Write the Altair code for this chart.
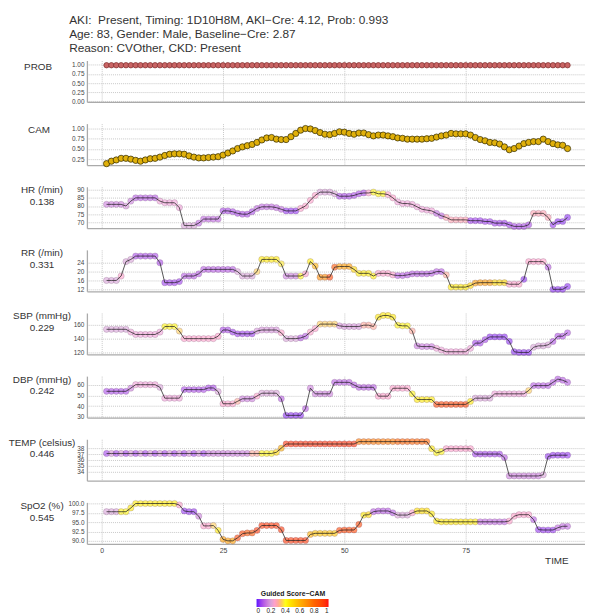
import altair as alt
import pandas as pd

TIME = list(range(1, 97))

PROB = [0.99] * 12 + [0.99] * 12 + [0.99] * 12 + [0.99] * 12 + [0.99] * 12 + [0.99] * 12 + [0.99] * 12 + [0.99] * 12

CAM = [0.14, 0.20, 0.23, 0.27, 0.27, 0.25, 0.22, 0.20, 0.23, 0.26, 0.27, 0.30,
       0.34, 0.37, 0.38, 0.38, 0.37, 0.33, 0.30, 0.28, 0.28, 0.29, 0.30, 0.31,
       0.35, 0.40, 0.45, 0.51, 0.55, 0.58, 0.61, 0.66, 0.72, 0.77, 0.78, 0.74,
       0.73, 0.73, 0.80, 0.88, 0.96, 1.00, 0.99, 0.95, 0.90, 0.86, 0.85, 0.88,
       0.92, 0.91, 0.88, 0.86, 0.89, 0.89, 0.85, 0.82, 0.84, 0.84, 0.82, 0.80,
       0.77, 0.76, 0.74, 0.74, 0.74, 0.74, 0.75, 0.76, 0.79, 0.82, 0.84, 0.88,
       0.87, 0.87, 0.87, 0.84, 0.78, 0.73, 0.70, 0.66, 0.65, 0.62, 0.55, 0.48,
       0.51, 0.57, 0.63, 0.66, 0.68, 0.68, 0.74, 0.68, 0.63, 0.60, 0.59, 0.51]

HR = [81, 81, 81, 81, 80, 83, 85, 85, 85, 85, 85, 83,
      82, 82, 82, 79, 68, 68, 68, 69.5, 72, 72, 72, 72,
      77, 77, 76.5, 75.5, 75, 75, 76.5, 78.5, 79.5, 79.5, 79.5, 79,
      78, 77, 77, 77, 78.5, 80, 83.5, 86.5, 88.5, 88.5, 88.5, 87.5,
      86, 86, 86, 86.5, 87.5, 88, 88, 88.5, 87.5, 87.5, 87, 85,
      82.5, 81.5, 81.5, 81, 79.5, 78, 77.5, 77, 75.5, 74, 73, 71.5,
      71.5, 71.5, 71.5, 71, 71, 71, 70.5, 70.5, 69.5, 69.5, 69.5, 68.5,
      67.5, 67.5, 67.5, 68.5, 75.5, 75.5, 75.5, 73, 68.5, 70.5, 70.5, 73]
HR_S = [0.15, 0.15, 0.15, 0.15, 0.18, 0.15, 0.10, 0.10, 0.10, 0.10, 0.10, 0.22,
        0.22, 0.22, 0.22, 0.22, 0.20, 0.20, 0.20, 0.12, 0.12, 0.12, 0.12, 0.12,
        0.08, 0.08, 0.08, 0.08, 0.08, 0.08, 0.08, 0.12, 0.12, 0.12, 0.12, 0.12,
        0.12, 0.05, 0.05, 0.05, 0.25, 0.25, 0.25, 0.25, 0.20, 0.20, 0.20, 0.20,
        0.08, 0.08, 0.08, 0.08, 0.08, 0.08, 0.25, 0.42, 0.42, 0.42, 0.25, 0.25,
        0.22, 0.22, 0.22, 0.22, 0.22, 0.22, 0.22, 0.22, 0.12, 0.12, 0.28, 0.28,
        0.28, 0.28, 0.28, 0.06, 0.06, 0.06, 0.06, 0.06, 0.06, 0.06, 0.06, 0.06,
        0.08, 0.08, 0.08, 0.08, 0.28, 0.28, 0.28, 0.28, 0.05, 0.04, 0.04, 0.04]

RR = [16, 16, 16, 18, 24.5, 25.5, 27, 27, 27, 27, 27, 24,
      15, 15, 15, 15.5, 18, 18, 18, 19, 21, 21, 21, 21,
      21, 21, 21, 20, 18, 18, 18, 20, 25.5, 25.5, 25.5, 25.5,
      23.5, 18, 18, 18, 18, 19, 24.5, 22.5, 17.5, 17.5, 17.5, 22,
      22.3, 22.3, 22.3, 21, 19.2, 19.2, 19.2, 18, 19.2, 19.2, 19.2, 18.5,
      18.2, 18.2, 18.5, 19, 19, 19, 19, 19.2, 20, 20, 18.5, 13,
      13, 13, 13, 13.7, 14.8, 15, 15, 15, 15, 15, 15, 14.3,
      14.3, 14.3, 16.5, 24.5, 24.5, 24.5, 24.5, 22, 12, 12, 12, 13.3]
RR_S = [0.20, 0.20, 0.20, 0.25, 0.20, 0.20, 0.08, 0.08, 0.08, 0.08, 0.08, 0.08,
        0.06, 0.06, 0.06, 0.06, 0.10, 0.10, 0.10, 0.10, 0.10, 0.10, 0.10, 0.10,
        0.10, 0.10, 0.10, 0.20, 0.20, 0.20, 0.20, 0.35, 0.45, 0.45, 0.45, 0.45,
        0.38, 0.15, 0.15, 0.15, 0.42, 0.25, 0.45, 0.60, 0.70, 0.70, 0.90, 0.85,
        0.65, 0.65, 0.65, 0.50, 0.44, 0.44, 0.44, 0.44, 0.25, 0.25, 0.25, 0.25,
        0.10, 0.10, 0.10, 0.10, 0.10, 0.10, 0.10, 0.10, 0.10, 0.10, 0.30, 0.45,
        0.45, 0.45, 0.45, 0.50, 0.65, 0.65, 0.65, 0.65, 0.50, 0.50, 0.50, 0.25,
        0.25, 0.25, 0.04, 0.25, 0.25, 0.25, 0.25, 0.10, 0.04, 0.04, 0.04, 0.04]

SBP = [153.5, 153.5, 153.5, 153.5, 153.5, 149.5, 146, 146, 146, 146, 146, 149.5,
       157.5, 157.5, 157.5, 151, 140, 140, 140, 140, 140, 140, 140, 143.5,
       152.5, 152.5, 149.5, 147, 147, 147, 147, 151, 152.5, 152.5, 152.5, 152.5,
       148.5, 140, 140, 140, 141, 143.5, 149.5, 154.5, 161, 161, 161, 161,
       158.5, 157.5, 157.5, 157.5, 157.5, 159.5, 159.5, 157.5, 171, 173.5, 173.5, 171,
       159.5, 158.5, 158.5, 151, 129.5, 128.5, 128.5, 128.5, 126, 123.5, 121, 121,
       121, 121, 121, 126, 133.5, 133.5, 138.5, 142.5, 142.5, 142.5, 142.5, 136,
       121, 120, 120, 120, 127.5, 129.5, 129.5, 131, 136, 143.5, 143.5, 148.5]
SBP_S = [0.20, 0.20, 0.20, 0.20, 0.20, 0.22, 0.22, 0.22, 0.22, 0.22, 0.22, 0.22,
         0.42, 0.42, 0.42, 0.35, 0.25, 0.25, 0.25, 0.25, 0.25, 0.25, 0.25, 0.25,
         0.08, 0.08, 0.06, 0.06, 0.06, 0.06, 0.06, 0.18, 0.18, 0.18, 0.18, 0.18,
         0.25, 0.20, 0.20, 0.20, 0.10, 0.10, 0.25, 0.25, 0.35, 0.35, 0.35, 0.35,
         0.18, 0.18, 0.18, 0.18, 0.18, 0.30, 0.30, 0.30, 0.45, 0.45, 0.45, 0.45,
         0.42, 0.42, 0.42, 0.30, 0.14, 0.14, 0.14, 0.14, 0.22, 0.22, 0.22, 0.22,
         0.22, 0.22, 0.22, 0.22, 0.07, 0.07, 0.07, 0.04, 0.04, 0.04, 0.04, 0.04,
         0.04, 0.04, 0.04, 0.04, 0.20, 0.20, 0.20, 0.20, 0.09, 0.09, 0.09, 0.09]

DBP = [54, 54, 54, 54, 54, 57, 60.3, 60.3, 60.3, 60.3, 60.3, 57.8,
       47.5, 47.5, 47.5, 47.5, 55.6, 55.6, 55.6, 55.6, 55.6, 57.2, 57.2, 53.7,
       42.2, 42.2, 42.2, 44.5, 46.9, 46.9, 46.9, 49.5, 52.2, 52.2, 52.2, 52.2,
       46.9, 31.2, 31.2, 31.2, 31.2, 37.5, 57, 51.6, 51.6, 51.6, 51.6, 62.5,
       62.5, 62.5, 62.5, 60, 57.8, 57.8, 57.8, 57.8, 49.4, 49.4, 49.4, 56.9,
       56.9, 56.9, 56.9, 51.6, 46.2, 46.2, 46.2, 46.2, 41.6, 41.6, 41.6, 41.6,
       41.6, 41.6, 41.6, 44.4, 47.5, 47.5, 47.5, 47.5, 51.6, 51.6, 51.6, 51.6,
       51.6, 51.6, 51.6, 54.7, 59.4, 59.4, 59.4, 59.4, 62.5, 65.6, 64.5, 62.5]
DBP_S = [0.08, 0.08, 0.08, 0.08, 0.08, 0.15, 0.22, 0.22, 0.22, 0.22, 0.22, 0.20,
         0.22, 0.22, 0.22, 0.22, 0.08, 0.08, 0.08, 0.08, 0.08, 0.08, 0.08, 0.20,
         0.25, 0.25, 0.25, 0.30, 0.15, 0.15, 0.15, 0.25, 0.20, 0.20, 0.20, 0.20,
         0.10, 0.04, 0.04, 0.04, 0.04, 0.10, 0.15, 0.15, 0.15, 0.15, 0.15, 0.10,
         0.10, 0.10, 0.10, 0.10, 0.10, 0.10, 0.10, 0.10, 0.25, 0.25, 0.25, 0.25,
         0.25, 0.25, 0.25, 0.42, 0.45, 0.45, 0.45, 0.45, 0.90, 0.90, 0.90, 0.90,
         0.90, 0.90, 0.90, 0.45, 0.20, 0.20, 0.20, 0.20, 0.22, 0.22, 0.22, 0.22,
         0.22, 0.22, 0.22, 0.35, 0.10, 0.10, 0.10, 0.10, 0.10, 0.10, 0.10, 0.10]

TEMP = [37.1, 37.1, 37.1, 37.1, 37.1, 37.1, 37.1, 37.1, 37.1, 37.1, 37.1, 37.1,
        37.1, 37.1, 37.1, 37.1, 37.1, 37.1, 37.1, 37.1, 37.1, 37.1, 37.1, 37.1,
        37.1, 37.1, 37.1, 37.1, 37.1, 37.1, 37.1, 37.1, 37.1, 37.1, 37.1, 37.3,
        38.0, 38.7, 38.7, 38.7, 38.7, 38.7, 38.7, 38.7, 38.7, 38.7, 38.7, 38.7,
        38.7, 38.7, 38.7, 38.7, 39.1, 39.1, 39.1, 39.1, 39.1, 39.1, 39.1, 39.1,
        39.1, 39.1, 39.1, 39.1, 39.1, 39.1, 39.1, 37.9, 37.2, 37.4, 37.9, 37.9,
        37.9, 37.9, 37.9, 37.9, 37.0, 37.0, 37.0, 37.0, 37.0, 37.0, 36.4, 33.3,
        33.3, 33.3, 33.3, 33.3, 33.3, 33.3, 33.5, 36.6, 36.8, 36.8, 36.8, 36.8]
TEMP_S = [0.07, 0.18, 0.07, 0.18, 0.07, 0.18, 0.07, 0.18, 0.07, 0.18, 0.07, 0.18,
          0.07, 0.18, 0.07, 0.18, 0.07, 0.18, 0.07, 0.18, 0.07, 0.15, 0.15, 0.15,
          0.15, 0.15, 0.15, 0.15, 0.15, 0.15, 0.30, 0.30, 0.42, 0.42, 0.42, 0.50,
          0.60, 0.95, 0.95, 0.95, 0.95, 0.95, 0.95, 0.95, 0.95, 0.95, 0.95, 0.95,
          0.95, 0.95, 0.95, 0.95, 0.75, 0.75, 0.75, 0.75, 0.75, 0.75, 0.75, 0.75,
          0.80, 0.80, 0.80, 0.80, 0.80, 0.80, 0.80, 0.45, 0.42, 0.42, 0.25, 0.25,
          0.25, 0.25, 0.25, 0.25, 0.07, 0.07, 0.07, 0.07, 0.07, 0.07, 0.10, 0.15,
          0.15, 0.15, 0.15, 0.15, 0.15, 0.15, 0.20, 0.05, 0.05, 0.05, 0.05, 0.05]

SPO2 = [97.8, 97.8, 97.8, 97.8, 97.8, 98.8, 100, 100, 100, 100, 100, 100,
        100, 100, 100, 99.6, 98, 97.8, 97.8, 96.6, 94, 94, 94.1, 92.8,
        90.4, 90, 90, 90.8, 91.9, 92.1, 92.1, 92.8, 94.1, 94.1, 94.1, 94.1,
        93, 90.1, 90.1, 90.1, 90.1, 90.1, 91.7, 92, 92, 92, 92, 92,
        92.8, 92.9, 92.9, 92.9, 94.4, 96.9, 97, 97.8, 98, 98, 98, 97.5,
        96.9, 96.9, 96.9, 97.5, 98, 98, 98, 97.2, 95.3, 95.1, 95.1, 95.1,
        95.1, 95.1, 95.1, 95.1, 95.1, 95.1, 95.1, 95.1, 95.1, 95.1, 95.1, 95.3,
        96.6, 97, 97, 97, 95.7, 93, 92.9, 92.9, 92.9, 93.5, 93.9, 93.9]
SPO2_S = [0.20, 0.20, 0.20, 0.42, 0.42, 0.45, 0.45, 0.45, 0.45, 0.45, 0.45, 0.45,
          0.45, 0.45, 0.45, 0.25, 0.05, 0.05, 0.05, 0.15, 0.25, 0.25, 0.35, 0.45,
          0.65, 0.65, 0.65, 0.90, 0.90, 0.85, 0.85, 0.93, 0.93, 0.93, 0.93, 0.93,
          0.93, 0.93, 0.93, 0.93, 0.93, 0.93, 0.60, 0.55, 0.55, 0.55, 0.55, 0.55,
          0.90, 0.90, 0.90, 0.90, 0.90, 0.45, 0.50, 0.10, 0.10, 0.10, 0.10, 0.10,
          0.20, 0.20, 0.20, 0.25, 0.48, 0.48, 0.48, 0.45, 0.45, 0.45, 0.45, 0.45,
          0.45, 0.45, 0.45, 0.45, 0.45, 0.12, 0.12, 0.12, 0.12, 0.12, 0.12, 0.25,
          0.25, 0.25, 0.25, 0.25, 0.10, 0.05, 0.05, 0.05, 0.05, 0.12, 0.12, 0.12]

HEADER = ["AKI: \u00a0Present, Timing: 1D10H8M, AKI\u2212Cre: 4.12, Prob: 0.993",
          "Age: 83, Gender: Male, Baseline\u2212Cre: 2.87",
          "Reason: CVOther, CKD: Present"]
LEGEND_TITLE = "Guided Score\u2212CAM"
X_TICKS = [0, 25, 50, 75]

FONT = "Liberation Sans"
W = 505
H = 42
XDOM = [-3.05, 99.6]

cscale = alt.Scale(domain=[0, 0.2, 0.4, 0.6, 0.8, 1.0],
                   range=["#5b17ff", "#d9a3d9", "#ffff1a", "#ffb000", "#ff6400", "#ff1010"])
legend = alt.Legend(title=LEGEND_TITLE, orient="none", legendX=172, legendY=537,
                    direction="horizontal", gradientLength=73, gradientThickness=8,
                    titleFontSize=7, titleFontWeight="bold", titleAnchor="middle",
                    titleColor="#222", labelFontSize=6.5, labelColor="#222",
                    values=[0, 0.2, 0.4, 0.6, 0.8, 1], format=".1~f",
                    titlePadding=2, labelOffset=1, gradientStrokeWidth=0)


def xaxis(last):
    common = dict(values=X_TICKS, ticks=False, domain=True, domainColor="#aaaaaa",
                  domainWidth=1.3, grid=True, gridDash=[1, 1], gridColor="#c8c8c8")
    if last:
        return alt.Axis(labels=True, labelFontSize=7, labelColor="#444", labelPadding=3,
                        title="TIME", titleX=476, titleY=17, titleFontSize=10,
                        titleFontWeight="normal", titleColor="#333", titleAlign="center",
                        titleBaseline="middle", **common)
    return alt.Axis(labels=False, title=None, **common)


def yaxis(ticks, fmt, title, ty, tx):
    return alt.Axis(values=ticks, format=fmt, ticks=False, labelFontSize=6.5,
                    labelColor="#444", labelPadding=3, labelOverlap=False,
                    domain=True, domainColor="#aaaaaa", domainWidth=1.3,
                    grid=True, gridDash=[1, 1], gridColor="#c8c8c8",
                    title=title, titleAngle=0, titleAlign="center", titleBaseline="top",
                    titleX=tx, titleY=ty, titleFontSize=10, titleFontWeight="normal",
                    titleColor="#333", titleLineHeight=12)


def panel(vals, scores, ydom, ticks, fmt, title, ty=-2, tx=-46, last=False, fixed=None):
    df = pd.DataFrame({"time": TIME, "value": vals})
    if scores is not None:
        df["score"] = scores
    x = alt.X("time:Q", scale=alt.Scale(domain=XDOM, nice=False, zero=False), axis=xaxis(last))
    y = alt.Y("value:Q", scale=alt.Scale(domain=ydom, nice=False, zero=False),
              axis=yaxis(ticks, fmt, title, ty, tx))
    base = alt.Chart(df).encode(x=x, y=y)
    if fixed is not None:
        fill, stroke, size = fixed
        pts = base.mark_circle(size=size, color=fill, stroke=stroke, strokeWidth=0.7, opacity=1)
        return pts.properties(width=W, height=H)
    pts = base.mark_circle(size=40, fillOpacity=0.6, stroke="#6a4a6a", strokeWidth=0.5,
                           strokeOpacity=0.45).encode(
        color=alt.Color("score:Q", scale=cscale, legend=legend))
    line = base.mark_line(color="#2a2a2a", strokeWidth=0.8)
    return alt.layer(pts, line).properties(width=W, height=H)


p_prob = panel(PROB, None, [-0.02, 1.12], [0, 0.25, 0.5, 0.75, 1.0], ".2f", "PROB", ty=1, tx=-50,
               fixed=("#c96464", "#7a2a2a", 30)).properties(
    title=alt.TitleParams(text=HEADER, anchor="start", frame="group", dx=-18, offset=6,
                          fontSize=12, fontWeight="normal", color="#333", font=FONT,
                          lineHeight=14))
p_cam = panel(CAM, None, [0.105, 1.12], [0.25, 0.5, 0.75, 1.0], ".2f", "CAM", ty=1, tx=-49,
              fixed=("#e0b00a", "#2a2400", 40))
p_hr = panel(HR, HR_S, [66.4, 91.8], [70, 75, 80, 85, 90], "d", ["HR (/min)", "0.138"])
p_rr = panel(RR, RR_S, [11.1, 29.8], [12, 16, 20, 24], "d", ["RR (/min)", "0.331"])
p_sbp = panel(SBP, SBP_S, [117.1, 177.1], [120, 140, 160], "d", ["SBP (mmHg)", "0.229"])
p_dbp = panel(DBP, DBP_S, [29.1, 68.4], [30, 40, 50, 60], "d", ["DBP (mmHg)", "0.242"])
p_temp = panel(TEMP, TEMP_S, [32.5, 39.5], [34, 35, 36, 37, 38], "d", ["TEMP (celsius)", "0.446"])
p_spo2 = panel(SPO2, SPO2_S, [89.2, 100.3], [90, 92.5, 95, 97.5, 100], ".1f", ["SpO2 (%)", "0.545"],
               last=True)

chart = alt.vconcat(p_prob, p_cam, p_hr, p_rr, p_sbp, p_dbp, p_temp, p_spo2,
                    spacing=22, bounds="flush").resolve_scale(
    y="independent", color="shared").properties(
    padding={"left": 0, "top": 2, "right": 0, "bottom": 0}).configure(
    font=FONT).configure_view(stroke=None)

chart.save("out.html", embed_options={"renderer": "svg", "actions": False})
